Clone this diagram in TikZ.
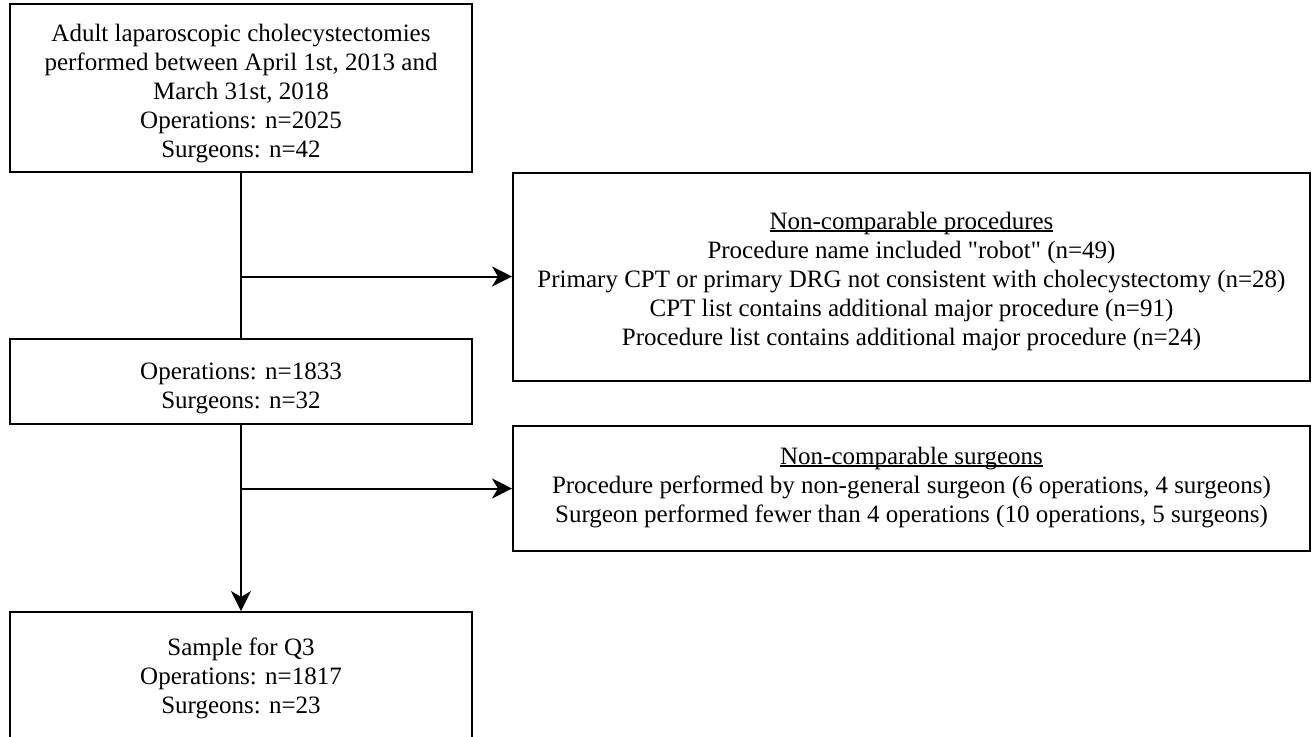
\documentclass[tikz,border=0pt]{standalone}
\usepackage{fontspec}
\setmainfont{Liberation Serif}
\usetikzlibrary{arrows.meta, positioning}

% lines of a box, lowered by #1 inside it
\newcommand{\boxlines}[2]{\raisebox{-#1}[\height][\depth]{\begin{tabular}{@{}c@{}}#2\end{tabular}}}
% heading with a thick underline
\newsavebox{\headbox}
\newcommand{\heading}[1]{\sbox{\headbox}{#1}\rlap{\rule[-1.4pt]{\wd\headbox}{0.9pt}}\usebox{\headbox}}

\begin{document}
\begin{tikzpicture}[
    x=0.5pt, y=-0.5pt,
    every node/.style={font=\fontsize{12.5}{14.5}\selectfont},
    stage/.style={draw, line width=1pt, align=center, inner sep=0pt,
                  minimum width=231pt},
    excl/.style={draw, line width=1pt, align=center, inner sep=0pt,
                 minimum width=398.5pt},
    flow/.style={line width=1pt},
    flowarrow/.style={line width=1pt, -{Stealth[length=10pt, width=10pt, inset=3pt]}}
  ]
    \useasboundingbox (0,0) rectangle (1314,736);
    \clip (0,0) rectangle (1314,736);

    % main column
    \node[stage, minimum height=84pt] (cohort) at (241,88) {\boxlines{3pt}{
      Adult laparoscopic cholecystectomies\\
      performed between April 1st, 2013 and\\
      March 31st, 2018\\
      Operations: n=2025\\
      Surgeons: n=42}};
    \node[stage, minimum height=42.5pt] (included) at (241,381.5) {\boxlines{3.5pt}{
      Operations: n=1833\\
      Surgeons: n=32}};
    \node[stage, minimum height=64pt] (sample) at (241,676) {\boxlines{1.5pt}{
      Sample for Q3\\
      Operations: n=1817\\
      Surgeons: n=23}};

    % exclusion boxes
    \node[excl, minimum height=104pt] (exproc) at (911.5,276.5) {\boxlines{2.5pt}{
      \heading{Non-comparable procedures}\\
      Procedure name included \textquotedbl robot\textquotedbl{} (n=49)\\
      Primary CPT or primary DRG not consistent with cholecystectomy (n=28)\\
      CPT list contains additional major procedure (n=91)\\
      Procedure list contains additional major procedure (n=24)}};
    \node[excl, minimum height=62.5pt] (exsurg) at (911.5,488.5) {\boxlines{-0.5pt}{
      \heading{Non-comparable surgeons}\\
      Procedure performed by non-general surgeon (6 operations, 4 surgeons)\\
      Surgeon performed fewer than 4 operations (10 operations, 5 surgeons)}};

    % connectors
    \coordinate (j1) at (cohort.south |- exproc.west);
    \coordinate (j2) at (included.south |- exsurg.west);
    \draw[flow] (cohort.south) -- (included.north);
    \draw[flowarrow] (j1) -- (exproc.west);
    \draw[flowarrow] (included.south) -- (sample.north);
    \draw[flowarrow] (j2) -- (exsurg.west);
\end{tikzpicture}
\end{document}
